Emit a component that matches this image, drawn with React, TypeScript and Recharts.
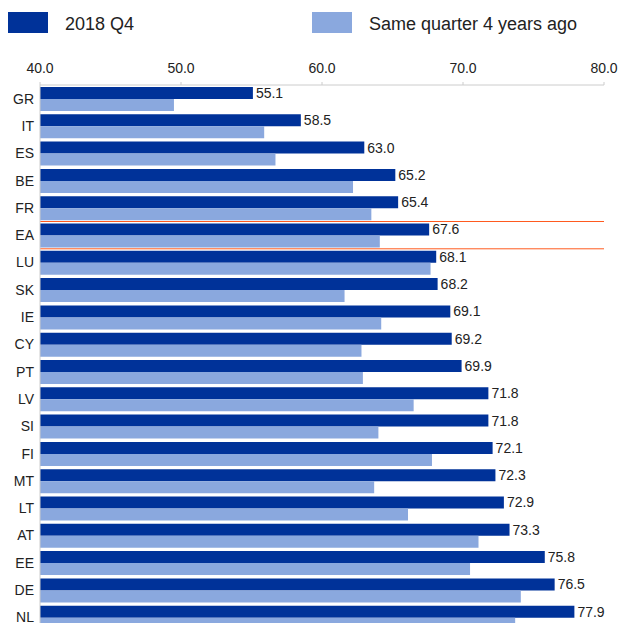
import { BarChart, Bar, XAxis, YAxis, LabelList, ReferenceArea } from 'recharts';

const countries = ['GR', 'IT', 'ES', 'BE', 'FR', 'EA', 'LU', 'SK', 'IE', 'CY', 'PT', 'LV', 'SI', 'FI', 'MT', 'LT', 'AT', 'EE', 'DE', 'NL'];
const current = [55.1, 58.5, 63.0, 65.2, 65.4, 67.6, 68.1, 68.2, 69.1, 69.2, 69.9, 71.8, 71.8, 72.1, 72.3, 72.9, 73.3, 75.8, 76.5, 77.9];
const fourYearsAgo = [49.5, 55.9, 56.7, 62.2, 63.5, 64.1, 67.7, 61.6, 64.2, 62.8, 62.9, 66.5, 64.0, 67.8, 63.7, 66.1, 71.1, 70.5, 74.1, 73.7];
const xTicks = [40, 50, 60, 70, 80];

const data = countries.map((c, i) => ({ name: c, current: current[i], past: fourYearsAgo[i] }));

const DARK = '#003299';
const LIGHT = '#8aa8de';
const ORANGE = '#ff5a1f';
const FONT = '"Liberation Sans", Arial, sans-serif';

// outline of the EA row: only the top and bottom edges are drawn
const EaFrame = (props: any) => {
  const { x, y, width, height } = props;
  return (
    <g>
      <line x1={x} x2={x + width} y1={y} y2={y} stroke={ORANGE} strokeWidth={1} />
      <line x1={x} x2={x + width} y1={y + height} y2={y + height} stroke={ORANGE} strokeWidth={1} />
    </g>
  );
};

export default function App() {
  return (
    <div style={{ position: 'absolute', left: 0, top: 0, width: 621, height: 623, overflow: 'hidden', background: '#fff', fontFamily: FONT }}>
      {/* legend */}
      <div style={{ position: 'absolute', left: 8, top: 12, width: 40, height: 21, background: DARK }} />
      <div style={{ position: 'absolute', left: 65, top: 13, fontSize: 18, lineHeight: '22px', color: '#222' }}>2018 Q4</div>
      <div style={{ position: 'absolute', left: 312, top: 12, width: 40, height: 21, background: LIGHT }} />
      <div style={{ position: 'absolute', left: 369, top: 13, fontSize: 18, lineHeight: '22px', color: '#222' }}>Same quarter 4 years ago</div>

      <div style={{ position: 'absolute', left: 0, top: 0 }}>
        <BarChart
          width={621}
          height={631}
          data={data}
          layout="vertical"
          margin={{ top: 0, right: 17, bottom: 0, left: 0 }}
          barCategoryGap={2}
          barGap={0}
        >
          <XAxis
            type="number"
            orientation="top"
            domain={[40, 80]}
            ticks={xTicks}
            allowDataOverflow
            height={85}
            tickSize={3}
            tickMargin={9}
            stroke="#cccccc"
            tick={{ fill: '#222', fontSize: 14, fontFamily: FONT }}
            tickFormatter={(v: number) => v.toFixed(1)}
          />
          <YAxis
            type="category"
            dataKey="name"
            width={40}
            tickSize={0}
            tickMargin={6}
            stroke="#cccccc"
            tick={{ fill: '#222', fontSize: 14, fontFamily: FONT }}
            interval={0}
          />
          <Bar dataKey="current" fill={DARK} isAnimationActive={false}>
            <LabelList
              dataKey="current"
              position="right"
              offset={3}
              fill="#222"
              fontSize={14}
              fontFamily={FONT}
              formatter={(v: number) => v.toFixed(1)}
            />
          </Bar>
          <Bar dataKey="past" fill={LIGHT} isAnimationActive={false} />
          <ReferenceArea y1="EA" y2="EA" ifOverflow="visible" shape={<EaFrame />} />
        </BarChart>
      </div>
    </div>
  );
}
